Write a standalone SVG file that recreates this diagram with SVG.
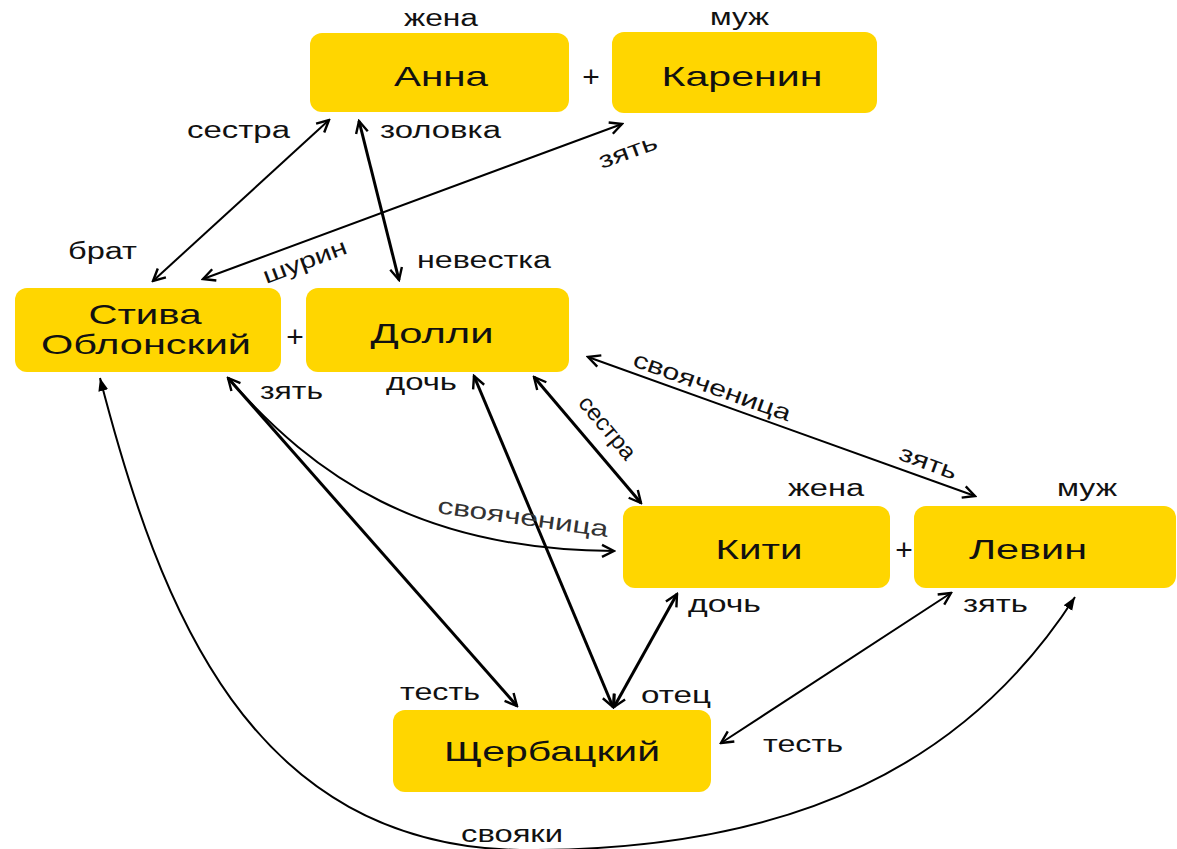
<svg xmlns="http://www.w3.org/2000/svg" width="1177" height="849" viewBox="0 0 1177 849">
<style>
.box{fill:#FFD600;}
.nl{font-family:"Liberation Sans",Arial,sans-serif;font-size:28px;fill:#111;text-anchor:middle;}
.lb{font-family:"Liberation Sans",Arial,sans-serif;font-size:23px;fill:#111;}
.lc{font-family:"Liberation Sans",Arial,sans-serif;font-size:23px;fill:#111;text-anchor:middle;}
.lg{font-family:"Liberation Sans",Arial,sans-serif;font-size:23px;fill:#333;text-anchor:middle;}
.plus{font-family:"Liberation Sans",Arial,sans-serif;font-size:30px;fill:#111;text-anchor:middle;}
.thin{fill:none;stroke:#000;stroke-width:2;marker-start:url(#ao);marker-end:url(#ao);}
.thick{fill:none;stroke:#000;stroke-width:3;marker-start:url(#ao);marker-end:url(#ao);}
</style>
<defs>
<marker id="ao" viewBox="0 0 16 16" refX="14" refY="8" markerWidth="16" markerHeight="16" markerUnits="userSpaceOnUse" orient="auto-start-reverse"><path d="M2,2 L14,8 L2,14" fill="none" stroke="#000" stroke-width="2.4"/></marker>
<marker id="af" viewBox="0 0 14 12" refX="13" refY="6" markerWidth="14" markerHeight="12" markerUnits="userSpaceOnUse" orient="auto-start-reverse"><path d="M0,1 L13,6 L0,11 Z" fill="#000"/></marker>
</defs>
<rect width="1177" height="849" fill="#fff"/>

<g id="connectors">
<path class="thin" d="M153,281 L329,120"/>
<path class="thick" d="M359,121 L399,280"/>
<path class="thin" d="M203,279 L622,124"/>
<path class="thick" d="M228,378 L517,706"/>
<path d="M228,378 C315,477 420,550 614,551" fill="none" stroke="#000" stroke-width="2" marker-end="url(#ao)"/>
<path class="thick" d="M474,376 L613,707"/>
<path class="thick" d="M534,377 L641,503"/>
<path class="thick" d="M677,594 L614,707"/>
<path class="thin" d="M588,357 L975,496"/>
<path class="thin" d="M721,743 L951,593"/>
<path d="M100,378 C160,610 250,845 520,850 C800,852 970,760 1075,597" fill="none" stroke="#000" stroke-width="2" marker-start="url(#af)" marker-end="url(#af)"/>
</g>

<g id="labels">
<text class="lb" x="187" y="138" textLength="103" lengthAdjust="spacingAndGlyphs">сестра</text>
<text class="lb" x="380" y="138" textLength="121" lengthAdjust="spacingAndGlyphs">золовка</text>
<text class="lb" x="68" y="259" textLength="69" lengthAdjust="spacingAndGlyphs">брат</text>
<text class="lb" x="417" y="268" textLength="134" lengthAdjust="spacingAndGlyphs">невестка</text>
<text class="lc" x="305" y="269" textLength="88" lengthAdjust="spacingAndGlyphs" transform="rotate(-20.6 305 262)">шурин</text>
<text class="lc" x="628" y="159" textLength="61" lengthAdjust="spacingAndGlyphs" transform="rotate(-20 628 152)">зять</text>
<text class="lb" x="260" y="399" textLength="63" lengthAdjust="spacingAndGlyphs">зять</text>
<text class="lb" x="386" y="390" textLength="71" lengthAdjust="spacingAndGlyphs">дочь</text>
<text class="lg" x="523" y="525" textLength="172" lengthAdjust="spacingAndGlyphs" transform="rotate(8 523 518)">свояченица</text>
<text class="lc" x="607" y="435" textLength="76" lengthAdjust="spacingAndGlyphs" transform="rotate(50 607 428)">сестра</text>
<text class="lc" x="712" y="394" textLength="166" lengthAdjust="spacingAndGlyphs" transform="rotate(19.6 712 387)">свояченица</text>
<text class="lc" x="928" y="470" textLength="60" lengthAdjust="spacingAndGlyphs" transform="rotate(20 928 463)">зять</text>
<text class="lb" x="404" y="26" textLength="74" lengthAdjust="spacingAndGlyphs">жена</text>
<text class="lb" x="710" y="25" textLength="59" lengthAdjust="spacingAndGlyphs">муж</text>
<text class="lb" x="788" y="496" textLength="76" lengthAdjust="spacingAndGlyphs">жена</text>
<text class="lb" x="1057" y="496" textLength="60" lengthAdjust="spacingAndGlyphs">муж</text>
<text class="lb" x="688" y="612" textLength="73" lengthAdjust="spacingAndGlyphs">дочь</text>
<text class="lb" x="963" y="612" textLength="65" lengthAdjust="spacingAndGlyphs">зять</text>
<text class="lb" x="641" y="703" textLength="70" lengthAdjust="spacingAndGlyphs">отец</text>
<text class="lb" x="400" y="700" textLength="80" lengthAdjust="spacingAndGlyphs">тесть</text>
<text class="lb" x="763" y="752" textLength="80" lengthAdjust="spacingAndGlyphs">тесть</text>
<text class="lb" x="461" y="842" textLength="102" lengthAdjust="spacingAndGlyphs">свояки</text>
<text class="plus" x="591" y="87">+</text>
<text class="plus" x="295" y="347">+</text>
<text class="plus" x="904" y="560">+</text>
</g>

<g id="anna"><rect class="box" x="310" y="33" width="259" height="79" rx="12"/><text class="nl" x="441" y="86" textLength="94" lengthAdjust="spacingAndGlyphs">Анна</text></g>
<g id="karenin"><rect class="box" x="612" y="32" width="265" height="81" rx="12"/><text class="nl" x="742" y="86" textLength="161" lengthAdjust="spacingAndGlyphs">Каренин</text></g>
<g id="stiva"><rect class="box" x="15" y="288" width="266" height="84" rx="12"/><text class="nl" x="145" y="324" textLength="113" lengthAdjust="spacingAndGlyphs">Стива</text><text class="nl" x="146" y="354" textLength="210" lengthAdjust="spacingAndGlyphs">Облонский</text></g>
<g id="dolly"><rect class="box" x="306" y="288" width="263" height="84" rx="12"/><text class="nl" x="432" y="343" textLength="123" lengthAdjust="spacingAndGlyphs">Долли</text></g>
<g id="kiti"><rect class="box" x="623" y="506" width="267" height="82" rx="12"/><text class="nl" x="759" y="559" textLength="87" lengthAdjust="spacingAndGlyphs">Кити</text></g>
<g id="levin"><rect class="box" x="914" y="506" width="262" height="82" rx="12"/><text class="nl" x="1028" y="559" textLength="118" lengthAdjust="spacingAndGlyphs">Левин</text></g>
<g id="shcherbatsky"><rect class="box" x="393" y="710" width="318" height="82" rx="12"/><text class="nl" x="552" y="761" textLength="216" lengthAdjust="spacingAndGlyphs">Щербацкий</text></g>
</svg>
